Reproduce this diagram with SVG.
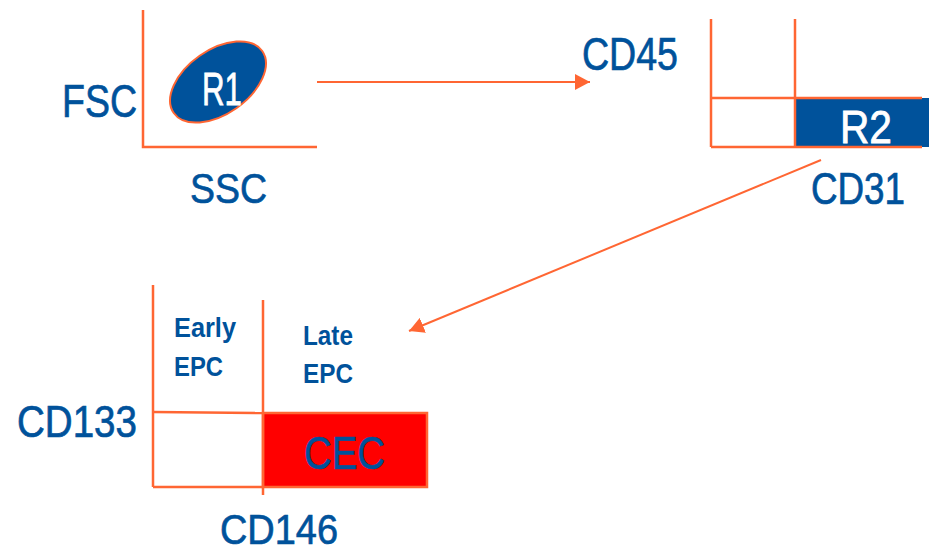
<svg xmlns="http://www.w3.org/2000/svg" width="929" height="555" viewBox="0 0 929 555">
<style>
.ax{stroke:#FF6633;stroke-width:2.5;fill:none}
.lbl{font-family:"Liberation Sans",Arial,sans-serif;fill:#00529B;stroke:#00529B;stroke-width:0.7}
.wt{font-family:"Liberation Sans",Arial,sans-serif;fill:#FFFFFF;stroke:#FFFFFF;stroke-width:0.8}
.bd{font-family:"Liberation Sans",Arial,sans-serif;fill:#00529B;font-weight:bold}
.conn{stroke:#FF6633;stroke-width:2;fill:none}
</style>
<defs>
<marker id="ah" markerUnits="userSpaceOnUse" markerWidth="16" markerHeight="16" refX="15" refY="8" orient="auto">
<path d="M0,0 L15,8 L0,16 Z" fill="#FF6633"/>
</marker>
</defs>
<rect width="929" height="555" fill="#FFFFFF"/>
<g id="plot-fsc-ssc">
<polyline class="ax" points="143,10 143,147 317,147"/>
<ellipse cx="218" cy="82" rx="54" ry="32" transform="rotate(-35 218 82)" fill="#00529B" stroke="#FF6633" stroke-width="2"/>
<text class="wt" x="202" y="105" font-size="46" textLength="40" lengthAdjust="spacingAndGlyphs">R1</text>
<text class="lbl" x="62" y="117" font-size="47" textLength="75" lengthAdjust="spacingAndGlyphs">FSC</text>
<text class="lbl" x="190" y="203" font-size="43" textLength="77" lengthAdjust="spacingAndGlyphs">SSC</text>
</g>
<g id="plot-cd45-cd31">
<rect x="796" y="98" width="133" height="49" fill="#00529B"/>
<line class="ax" x1="711" y1="19" x2="711" y2="147"/>
<line class="ax" x1="795" y1="19" x2="795" y2="147"/>
<line class="ax" x1="711" y1="98" x2="922" y2="98"/>
<line class="ax" x1="711" y1="147" x2="922" y2="147"/>
<text class="wt" x="840" y="143" font-size="46" textLength="52" lengthAdjust="spacingAndGlyphs">R2</text>
<text class="lbl" x="582" y="70" font-size="46" textLength="96" lengthAdjust="spacingAndGlyphs">CD45</text>
<text class="lbl" x="811" y="204" font-size="44" textLength="94" lengthAdjust="spacingAndGlyphs">CD31</text>
</g>
<g id="plot-cd133-cd146">
<rect x="263" y="413" width="164" height="74" fill="#FF0000" stroke="#FF6633" stroke-width="2.5"/>
<line class="ax" x1="153" y1="285" x2="153" y2="487"/>
<line class="ax" x1="263" y1="300" x2="263" y2="495"/>
<line class="ax" x1="153" y1="412" x2="263" y2="413"/>
<line class="ax" x1="153" y1="487" x2="263" y2="487"/>
<text class="lbl" x="304" y="469" font-size="47" textLength="81" lengthAdjust="spacingAndGlyphs">CEC</text>
<text class="bd" x="174" y="337" font-size="27" textLength="62" lengthAdjust="spacingAndGlyphs">Early</text>
<text class="bd" x="174" y="376" font-size="27" textLength="49" lengthAdjust="spacingAndGlyphs">EPC</text>
<text class="bd" x="303" y="345" font-size="27" textLength="50" lengthAdjust="spacingAndGlyphs">Late</text>
<text class="bd" x="303" y="383" font-size="27" textLength="50" lengthAdjust="spacingAndGlyphs">EPC</text>
<text class="lbl" x="17" y="437" font-size="45" textLength="120" lengthAdjust="spacingAndGlyphs">CD133</text>
<text class="lbl" x="220" y="544" font-size="42" textLength="118" lengthAdjust="spacingAndGlyphs">CD146</text>
</g>
<g id="connectors">
<line class="conn" x1="317" y1="82" x2="590" y2="82" marker-end="url(#ah)"/>
<line class="conn" x1="821" y1="160" x2="409" y2="331" marker-end="url(#ah)"/>
</g>
</svg>
